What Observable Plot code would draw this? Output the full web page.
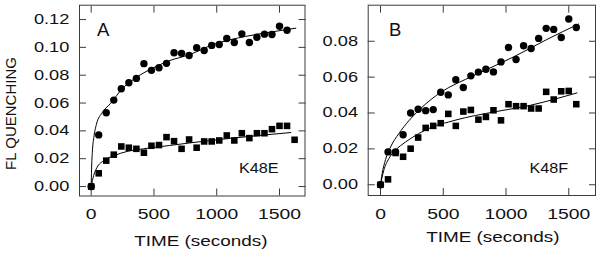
<!DOCTYPE html>
<html><head><meta charset="utf-8">
<script src="https://cdn.jsdelivr.net/npm/d3@7"></script>
<script src="https://cdn.jsdelivr.net/npm/@observablehq/plot@0.6"></script>
<style>
html,body{margin:0;padding:0;background:#fff;}
#fig{position:relative;width:600px;height:253px;overflow:hidden;background:#fff;}
#fig svg{position:absolute;top:0;}
</style></head><body><div id="fig"></div>
<script>
// ---- tick values and labels ----
const xTicks = [0, 500, 1000, 1500];
const yTicksA = [0, 0.02, 0.04, 0.06, 0.08, 0.10, 0.12];
const yTicksB = [0, 0.02, 0.04, 0.06, 0.08];
const panelLabels = ["A", "B"];
const mutantLabels = ["K48E", "K48F"];
const yTitle = "FL QUENCHING";
const xTitle = "TIME (seconds)";

// ---- panel A (K48E) ----
const tCircA = [0,60,120,180,240,300,360,420,480,540,600,660,720,780,840,900,960,1020,1080,1140,1200,1260,1320,1380,1440,1500,1560];
const circA  = [0,.0371,.0530,.0621,.0703,.0746,.0777,.0883,.0835,.0854,.0885,.0961,.0957,.0942,.0997,.0978,.1014,.1021,.1064,.1035,.1097,.1035,.1073,.1095,.1092,.1152,.1123];
const tSqA   = [0,60,120,180,240,300,360,420,480,540,600,660,720,780,840,900,960,1020,1080,1140,1200,1260,1320,1380,1440,1500,1560,1620];
const sqA    = [0,.0095,.0186,.0229,.0288,.0279,.0271,.0243,.0293,.0298,.0355,.0326,.0271,.0338,.0279,.0324,.0324,.0331,.0367,.0331,.0383,.0348,.0383,.0383,.0412,.0436,.0436,.0336];
const fitCircAt = [0,3,10,21,42,87,152,250,363,494,626,784,968,1231,1494,1630];
const fitCircAv = [0,.012,.0257,.0352,.0448,.0530,.0595,.0705,.0786,.0852,.0905,.0948,.1019,.1079,.1119,.1138];
const fitSqAt = [0,20,47,100,180,285,415,625,800,1150,1590];
const fitSqAv = [0,.008,.0138,.0186,.0221,.0252,.0271,.0295,.0315,.0350,.0388];

// ---- panel B (K48F) ----
const tCircB = [0,60,120,180,240,300,360,420,480,540,600,660,720,780,840,900,960,1020,1080,1140,1200,1260,1320,1380,1440,1500,1560];
const circB  = [0,.0183,.0183,.0279,.0400,.0421,.0413,.0419,.0516,.0501,.0585,.0542,.0607,.0628,.0644,.0629,.0685,.0765,.0698,.0775,.0760,.0816,.0872,.0866,.0821,.0924,.0877];
const tSqB   = [0,60,120,180,240,300,360,420,480,540,600,660,720,780,840,900,960,1020,1080,1140,1200,1260,1320,1380,1440,1500,1560];
const sqB    = [0,.0030,.0177,.0156,.0201,.0263,.0317,.0328,.0343,.0395,.0328,.0408,.0417,.0363,.0378,.0415,.0359,.0449,.0438,.0438,.0425,.0425,.0518,.0475,.0521,.0523,.0449];
const fitCircBt = [0,13,40,80,146,225,305,411,544,676,836,1061,1326,1578];
const fitCircBv = [0,.0061,.0140,.0210,.0285,.0356,.0415,.0480,.0542,.0587,.0639,.0713,.0810,.0896];
const fitSqBt = [0,26,66,119,199,305,411,544,676,836,1194,1565];
const fitSqBv = [0,.0080,.0145,.0192,.0238,.0285,.0322,.0350,.0374,.0397,.0443,.0512];

const ink = "#111";
const frameColor = "#3c3c3c";
const font = "'Liberation Sans', Arial, sans-serif";

function panel(o) {
  const marks = [
    Plot.frame({stroke: frameColor, strokeWidth: 1}),
    Plot.axisX({ticks: xTicks, anchor: "bottom", tickSize: -7, tickFormat: () => "", label: null, stroke: frameColor}),
    Plot.axisX({ticks: xTicks, anchor: "top", tickSize: -7, tickFormat: () => "", label: null, stroke: frameColor}),
    Plot.axisY({ticks: o.yTicks, anchor: "left", tickSize: -7, tickFormat: () => "", label: null, stroke: frameColor}),
    Plot.axisY({ticks: o.yTicks, anchor: "right", tickSize: -7, tickFormat: () => "", label: null, stroke: frameColor}),
    Plot.axisX({ticks: xTicks, anchor: "bottom", tickSize: 0, tickPadding: 13.5, tickFormat: d => String(d), label: null, fill: ink}),
    Plot.axisY({ticks: o.yTicks, anchor: "left", tickSize: 0, tickPadding: 10.2, tickFormat: d3.format(".2f"), label: null, fill: ink}),
    Plot.line(o.fitCircT, {x: o.fitCircT, y: o.fitCircV, curve: "monotone-x", stroke: "#000", strokeWidth: 1}),
    Plot.line(o.fitSqT, {x: o.fitSqT, y: o.fitSqV, curve: "monotone-x", stroke: "#000", strokeWidth: 1}),
    Plot.dot(o.tSq, {x: o.tSq, y: o.sq, symbol: "square", r: 3.7, fill: "#000", stroke: "none"}),
    Plot.dot(o.tCirc, {x: o.tCirc, y: o.circ, symbol: "circle", r: 3.7, fill: "#000", stroke: "none"}),
    Plot.text([o.label], {text: d => d, frameAnchor: "top-left", dx: o.labelDx, dy: 30.3, textAnchor: "start", lineAnchor: "bottom", fontSize: 18.5, fill: ink}),
    Plot.text([o.mutant], {text: d => d, frameAnchor: "bottom-right", dx: o.mutantDx, dy: o.mutantDy, textAnchor: "start", lineAnchor: "bottom", fontSize: 15, fill: ink}),
    Plot.text([xTitle], {text: d => d, frameAnchor: "bottom", dx: o.titleDx, dy: o.titleDy, textAnchor: "middle", lineAnchor: "bottom", fontSize: 15.5, fill: ink})
  ];
  if (o.showYTitle) {
    marks.push(Plot.text([yTitle], {text: d => d, frameAnchor: "left", rotate: -90, dx: -64, dy: 12.9, textAnchor: "middle", lineAnchor: "bottom", fontSize: 15, fill: ink}));
  }
  return Plot.plot({
    width: o.width, height: 253,
    marginLeft: o.marginLeft, marginRight: o.marginRight, marginTop: 4.7, marginBottom: o.marginBottom,
    x: {domain: o.xDomain, axis: null},
    y: {domain: o.yDomain, axis: null},
    style: {fontFamily: font, fontSize: "14px", background: "transparent", color: ink, overflow: "visible"},
    marks
  });
}

const fig = document.getElementById("fig");
const svgA = panel({
  width: 306, marginLeft: 79, marginRight: 1.5, marginBottom: 57.5,
  xDomain: [-93, 1703], yDomain: [-0.0068, 0.1303], yTicks: yTicksA,
  tCirc: tCircA, circ: circA, tSq: tSqA, sq: sqA,
  fitCircT: fitCircAt, fitCircV: fitCircAv, fitSqT: fitSqAt, fitSqV: fitSqAv,
  label: panelLabels[0], mutant: mutantLabels[0], labelDx: 17.5,
  mutantDx: -66.1, mutantDy: -23.2, titleDx: 8.6, titleDy: 49.5, showYTitle: true
});
svgA.style.left = "0px";
const svgB = panel({
  width: 294, marginLeft: 61.7, marginRight: 5, marginBottom: 58,
  xDomain: [-98, 1713], yDomain: [-0.006, 0.1001], yTicks: yTicksB,
  tCirc: tCircB, circ: circB, tSq: tSqB, sq: sqB,
  fitCircT: fitCircBt, fitCircV: fitCircBv, fitSqT: fitSqBt, fitSqV: fitSqBv,
  label: panelLabels[1], mutant: mutantLabels[1], labelDx: 20.8,
  mutantDx: -66, mutantDy: -22.7, titleDx: 11, titleDy: 46.5, showYTitle: false
});
svgB.style.left = "306px";
fig.appendChild(svgA);
fig.appendChild(svgB);

// widen the glyphs horizontally, as in the reference print
function stretchEl(t, k) {
  const w = t.getComputedTextLength();
  if (w > 0) {
    t.setAttribute("textLength", (w * k).toFixed(2));
    t.setAttribute("lengthAdjust", "spacingAndGlyphs");
  }
}
for (const svg of [svgA, svgB]) {
  svg.querySelectorAll('g[aria-label="x-axis tick label"] text').forEach(t => stretchEl(t, 1.38));
  svg.querySelectorAll('g[aria-label="y-axis tick label"] text').forEach(t => stretchEl(t, 1.3));
  svg.querySelectorAll("text").forEach(t => {
    const s = t.textContent.trim();
    if (s === xTitle) stretchEl(t, 1.22);
    else if (mutantLabels.includes(s)) stretchEl(t, 1.08);
  });
}
</script></body></html>
